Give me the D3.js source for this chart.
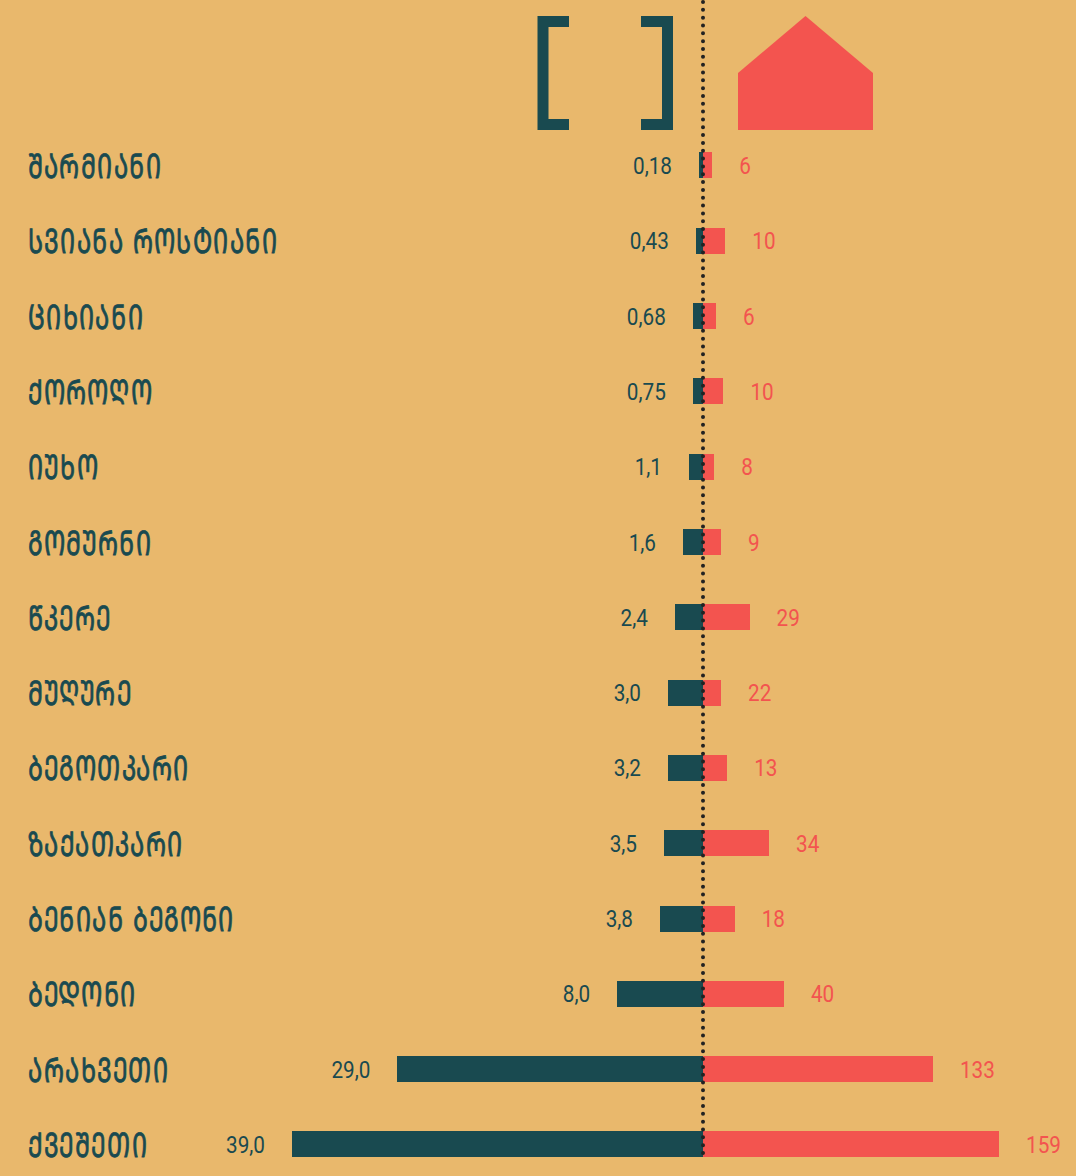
<!DOCTYPE html>
<html>
<head>
<meta charset="utf-8">
<style>
  html, body { margin: 0; padding: 0; background: #e9b86c; }
  svg { display: block; }
  .name { font-family: "DejaVu Sans", sans-serif; font-size: 34px; fill: #194a50; letter-spacing: 1.5px; stroke: #194a50; stroke-width: 0.9px; }
  .num { font-family: "Roboto", sans-serif; font-size: 23px; }
</style>
<script src="https://cdn.jsdelivr.net/npm/d3@7"></script>
</head>
<body>
<svg id="chart"></svg>
<script>
// Values
var villages = ["ᲨᲐᲠᲛᲘᲐᲜᲘ", "ᲡᲕᲘᲐᲜᲐ ᲠᲝᲡᲢᲘᲐᲜᲘ", "ᲪᲘᲮᲘᲐᲜᲘ", "ᲥᲝᲠᲝᲦᲝ", "ᲘᲣᲮᲝ", "ᲒᲝᲛᲣᲠᲜᲘ", "ᲬᲙᲔᲠᲔ", "ᲛᲣᲦᲣᲠᲔ", "ᲑᲔᲒᲝᲗᲙᲐᲠᲘ", "ᲖᲐᲥᲐᲗᲙᲐᲠᲘ", "ᲑᲔᲜᲘᲐᲜ ᲑᲔᲒᲝᲜᲘ", "ᲑᲔᲓᲝᲜᲘ", "ᲐᲠᲐᲮᲕᲔᲗᲘ", "ᲥᲕᲔᲨᲔᲗᲘ"];
var leftLabels = ["0,18", "0,43", "0,68", "0,75", "1,1", "1,6", "2,4", "3,0", "3,2", "3,5", "3,8", "8,0", "29,0", "39,0"];
var rightLabels = ["6", "10", "6", "10", "8", "9", "29", "22", "13", "34", "18", "40", "133", "159"];
// bar lengths as drawn, they do not always follow the printed number
var leftBars = [0.38, 0.68, 0.97, 0.97, 1.33, 1.9, 2.66, 3.32, 3.32, 3.7, 4.08, 8.15, 29.0, 39.0];
var rightBars = [5, 12, 7, 11, 6, 9.7, 25, 9.7, 13, 35.5, 17, 43.5, 123.5, 159];

var width = 1076;
var height = 1176;
var bg = "#e9b86c";
var teal = "#194a50";
var red = "#f3544f";

var svg = d3.select("#chart").attr("width", width).attr("height", height);
svg.append("rect").attr("width", width).attr("height", height).attr("fill", bg);

var midX = 703;
var nameSquash = 0.7;
var numSquash = 0.9;

// two scales, one each side of the dotted line
var xLeft = d3.scaleLinear().domain([0, 39]).range([midX, 292]);
var xRight = d3.scaleLinear().domain([0, 159]).range([midX, 999]);
var y = d3.scalePoint().domain(villages).range([165, 1144]);
var barH = 26;

// village names
svg.selectAll(".name").data(villages).enter()
    .append("text")
    .attr("class", "name")
    .attr("transform", function(d) {
        return "translate(28," + (y(d) + 13) + ") scale(" + nameSquash + ",1)";
    })
    .text(function(d) { return d; });

// left bars
svg.selectAll(".barL").data(villages).enter()
    .append("rect")
    .attr("x", function(d, i) { return Math.round(xLeft(leftBars[i])); })
    .attr("y", function(d) { return Math.ceil(y(d) - barH / 2); })
    .attr("width", function(d, i) { return midX - Math.round(xLeft(leftBars[i])); })
    .attr("height", barH)
    .attr("fill", teal);

// right bars
svg.selectAll(".barR").data(villages).enter()
    .append("rect")
    .attr("x", midX)
    .attr("y", function(d) { return Math.ceil(y(d) - barH / 2); })
    .attr("width", function(d, i) { return Math.round(xRight(rightBars[i])) - midX; })
    .attr("height", barH)
    .attr("fill", red);

// left numbers
svg.selectAll(".numL").data(villages).enter()
    .append("text")
    .attr("class", "num")
    .attr("transform", function(d, i) {
        return "translate(" + (xLeft(leftBars[i]) - 27) + "," + (y(d) + 9) + ") scale(" + numSquash + ",1)";
    })
    .attr("text-anchor", "end")
    .attr("fill", teal)
    .text(function(d, i) { return leftLabels[i]; });

// right numbers
svg.selectAll(".numR").data(villages).enter()
    .append("text")
    .attr("class", "num")
    .attr("transform", function(d, i) {
        return "translate(" + (xRight(rightBars[i]) + 27) + "," + (y(d) + 9) + ") scale(" + numSquash + ",1)";
    })
    .attr("fill", red)
    .text(function(d, i) { return rightLabels[i]; });

// dotted line
svg.append("line")
    .attr("x1", midX).attr("x2", midX)
    .attr("y1", 2).attr("y2", 1158)
    .attr("stroke", "#222")
    .attr("stroke-width", 4)
    .attr("stroke-linecap", "round")
    .attr("stroke-dasharray", "0 7.83");

// header icons
svg.append("path")
    .attr("d", "M537.5 16H569V27H548.5V119H569V130H537.5ZM641 16H673V130H641V119H662V27H641Z")
    .attr("fill", teal);
svg.append("path")
    .attr("d", "M738 73L805.5 16L873 73V130H738Z")
    .attr("fill", red);
</script>
</body>
</html>
